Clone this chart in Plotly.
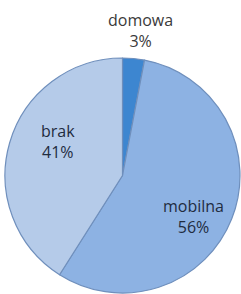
import plotly.graph_objects as go

labels = ["domowa", "mobilna", "brak"]
values = [3, 56, 41]
colors = ["#3d86d0", "#8db2e3", "#b5cbe9"]
# label anchor positions (paper fractions) and text colours
label_x = [0.581, 0.801, 0.241]
label_y = [0.895, 0.262, 0.520]
label_colors = ["#3a3a3a", "#1f2c3f", "#1f2c3f"]

total = sum(values)
pcts = [round(v / total * 100) for v in values]

fig = go.Figure(go.Pie(
    labels=labels,
    values=values,
    sort=False,
    direction="clockwise",
    rotation=0,
    marker=dict(colors=colors, line=dict(color="#6f8fbc", width=1.2)),
    textinfo="none",
    showlegend=False,
    hoverinfo="skip",
    domain=dict(x=[0.0207, 0.9959], y=[0.0034, 0.8027]),
))

for lab, p, x, y, c in zip(labels, pcts, label_x, label_y, label_colors):
    fig.add_annotation(
        x=x, y=y, xref="paper", yref="paper",
        text=f"{lab}<br>{p}%", showarrow=False,
        xanchor="center", yanchor="middle",
        font=dict(family="Open Sans, Liberation Sans, sans-serif", size=16, color=c),
    )

fig.update_layout(
    width=241, height=294,
    margin=dict(l=0, r=0, t=0, b=0),
    paper_bgcolor="white",
    plot_bgcolor="white",
)

fig.write_html(
    "out.html",
    config={"displayModeBar": False},
    post_script="document.body.style.margin='0';document.body.style.overflow='hidden';",
)
